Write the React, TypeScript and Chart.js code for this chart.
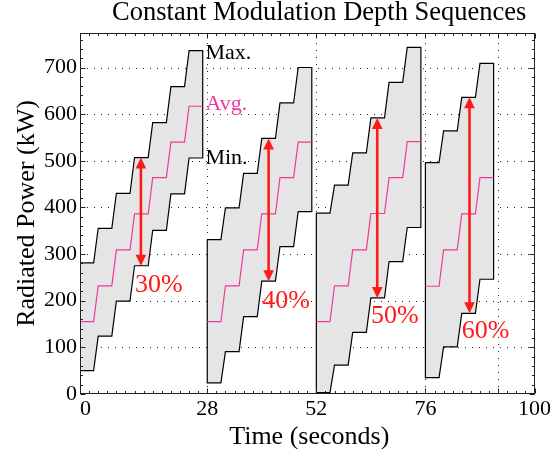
import React, { useEffect, useRef } from 'react';
import { Chart, registerables } from 'chart.js';

Chart.register(...registerables);

// ---- data ----
const GROUP_START = [0, 28, 52, 76]; // seconds
const STEP_SECONDS = 4; // each power level lasts 4 s
const HOLD_SECONDS = 3; // flat part of each level, then a 1 s ramp

const MAX_KW = [
  [281, 355, 430, 507, 582, 659, 736],
  [331, 399, 473, 548, 624, 700],
  [388, 448, 517, 592, 668, 743],
  [496, 564, 636, 709],
];
const AVG_KW = [
  [155, 232, 309, 386, 464, 540, 617],
  [155, 232, 309, 386, 464, 540],
  [155, 232, 309, 387, 464, 541],
  [231, 309, 386, 464],
];
const MIN_KW = [
  [50, 124, 199, 275, 351, 429, 506],
  [24, 91, 166, 242, 316, 391],
  [3, 62, 132, 206, 284, 357],
  [35, 101, 173, 246],
];

const DEPTH_LABELS = ['30%', '40%', '50%', '60%'];
const ARROW_TIME = [13.4, 41.5, 65.4, 85.7];
const ARROW_LEVEL = [3, 3, 3, 2];
const DEPTH_LABEL_TIME = [12.1, 40.1, 64.0, 84.0];
const DEPTH_LABEL_KW = [219, 184, 153, 119];

const LINE_LABELS = ['Max.', 'Avg.', 'Min.'];
const LINE_LABEL_KW = [719, 609, 493];
const LINE_LABEL_TIME = 27.6;

const X_TICKS = [0, 28, 52, 76, 92, 100];
const X_TICK_LABELS = ['\u00a0\u00a00', '28', '52', '76', '', '100'];
const Y_TICKS = [0, 100, 200, 300, 400, 500, 600, 700];
const X_MINOR_STEP = 2;
const Y_MINOR_STEP = 20;

const TITLE = 'Constant Modulation Depth Sequences';
const X_TITLE = 'Time (seconds)';
const Y_TITLE = 'Radiated Power (kW)';

// ---- style ----
const FONT = "'Liberation Serif', 'Times New Roman', serif";
const RED = '#ff1a1a';
const PINK = '#f0389c';
const FILL = '#e5e5e5';

const decor = {
  id: 'decor',
  beforeDatasetsDraw(chart: any) {
    const { ctx, chartArea: a, scales } = chart;
    const xs = scales.x;
    const ys = scales.y;
    ctx.save();
    ctx.strokeStyle = '#222';
    ctx.lineWidth = 1;
    ctx.setLineDash([1, 6]);
    X_TICKS.forEach((v) => {
      if (v <= xs.min || v >= xs.max) return;
      const px = Math.round(xs.getPixelForValue(v)) + 0.5;
      ctx.beginPath();
      ctx.moveTo(px, a.bottom);
      ctx.lineTo(px, a.top);
      ctx.stroke();
    });
    Y_TICKS.forEach((v) => {
      if (v <= ys.min || v >= ys.max) return;
      const py = Math.round(ys.getPixelForValue(v)) + 0.5;
      ctx.beginPath();
      ctx.moveTo(a.left, py);
      ctx.lineTo(a.right, py);
      ctx.stroke();
    });
    ctx.restore();
  },
  afterDatasetsDraw(chart: any) {
    const { ctx, chartArea: a, scales } = chart;
    const xs = scales.x;
    const ys = scales.y;
    ctx.save();

    // arrows
    const H = 11;
    const W = 5.3;
    ctx.fillStyle = RED;
    ctx.strokeStyle = RED;
    GROUP_START.forEach((_, g) => {
      const lvl = ARROW_LEVEL[g];
      const x = xs.getPixelForValue(ARROW_TIME[g]);
      const yt = ys.getPixelForValue(MAX_KW[g][lvl]);
      const yb = ys.getPixelForValue(MIN_KW[g][lvl]);
      ctx.lineWidth = 2.6;
      ctx.beginPath();
      ctx.moveTo(x, yt + H - 1);
      ctx.lineTo(x, yb - H + 1);
      ctx.stroke();
      ctx.beginPath();
      ctx.moveTo(x, yt);
      ctx.lineTo(x - W, yt + H);
      ctx.lineTo(x + W, yt + H);
      ctx.closePath();
      ctx.fill();
      ctx.beginPath();
      ctx.moveTo(x, yb);
      ctx.lineTo(x - W, yb - H);
      ctx.lineTo(x + W, yb - H);
      ctx.closePath();
      ctx.fill();
    });

    // depth labels
    ctx.font = `26px ${FONT}`;
    ctx.textAlign = 'left';
    ctx.textBaseline = 'alphabetic';
    DEPTH_LABELS.forEach((t, g) => {
      ctx.fillText(t, xs.getPixelForValue(DEPTH_LABEL_TIME[g]), ys.getPixelForValue(DEPTH_LABEL_KW[g]));
    });

    // Max / Avg / Min labels
    ctx.font = `22px ${FONT}`;
    LINE_LABELS.forEach((t, i) => {
      ctx.fillStyle = i === 1 ? PINK : '#000';
      ctx.fillText(t, xs.getPixelForValue(LINE_LABEL_TIME), ys.getPixelForValue(LINE_LABEL_KW[i]));
    });

    // box
    ctx.strokeStyle = '#222';
    ctx.lineWidth = 1;
    ctx.setLineDash([]);
    const L = Math.round(a.left) + 0.5;
    const R = Math.round(a.right) - 0.5;
    const T = Math.round(a.top) + 0.5;
    const B = Math.round(a.bottom) - 0.5;
    ctx.strokeRect(L, T, R - L, B - T);

    // ticks
    ctx.beginPath();
    const major = 5;
    const minor = 2.5;
    for (let v = xs.min; v <= xs.max + 1e-9; v += X_MINOR_STEP) {
      const len = X_TICKS.includes(v) ? major : minor;
      const px = Math.round(xs.getPixelForValue(v)) + 0.5;
      ctx.moveTo(px, B);
      ctx.lineTo(px, B - len);
      ctx.moveTo(px, T);
      ctx.lineTo(px, T + len);
    }
    for (let v = 0; v <= ys.max + 1e-9; v += Y_MINOR_STEP) {
      const len = Y_TICKS.includes(v) ? major : minor;
      const py = Math.round(ys.getPixelForValue(v)) + 0.5;
      ctx.moveTo(L, py);
      ctx.lineTo(L + len, py);
      ctx.moveTo(R, py);
      ctx.lineTo(R - len, py);
    }
    ctx.stroke();
    ctx.restore();
  },
  afterDraw(chart: any) {
    const { ctx, chartArea: a } = chart;
    ctx.save();
    ctx.fillStyle = '#000';
    ctx.textBaseline = 'alphabetic';
    ctx.textAlign = 'center';
    ctx.font = `26.5px ${FONT}`;
    ctx.fillText(TITLE, (a.left + a.right) / 2 + 12, 20);
    ctx.font = `26px ${FONT}`;
    ctx.fillText(X_TITLE, (a.left + a.right) / 2 + 2, 444);
    ctx.translate(33.5, (a.top + a.bottom) / 2);
    ctx.rotate(-Math.PI / 2);
    ctx.fillText(Y_TITLE, 0, 0);
    ctx.restore();
  },
};

export default function App() {
  const ref = useRef<HTMLCanvasElement>(null);
  useEffect(() => {
    document.body.style.margin = '0';
    const canvas = ref.current;
    if (!canvas) return;
    const datasets: any[] = [];
    GROUP_START.forEach((s, g) => {
      const n = MAX_KW[g].length;
      const outline: { x: number; y: number }[] = [];
      for (let k = 0; k < n; k++) {
        outline.push({ x: s + STEP_SECONDS * k, y: MAX_KW[g][k] });
        outline.push({ x: s + STEP_SECONDS * k + HOLD_SECONDS, y: MAX_KW[g][k] });
      }
      for (let k = n - 1; k >= 0; k--) {
        outline.push({ x: s + STEP_SECONDS * k + HOLD_SECONDS, y: MIN_KW[g][k] });
        outline.push({ x: s + STEP_SECONDS * k, y: MIN_KW[g][k] });
      }
      outline.push({ ...outline[0] });
      datasets.push({
        type: 'line',
        label: `range ${g}`,
        data: outline,
        borderColor: '#000',
        borderWidth: 1.2,
        backgroundColor: FILL,
        fill: 'shape',
        pointRadius: 0,
        tension: 0,
        order: 2,
      });
      const avg: { x: number; y: number }[] = [];
      for (let k = 0; k < n; k++) {
        avg.push({ x: s + STEP_SECONDS * k, y: AVG_KW[g][k] });
        avg.push({ x: s + STEP_SECONDS * k + HOLD_SECONDS, y: AVG_KW[g][k] });
      }
      datasets.push({
        type: 'line',
        label: `avg ${g}`,
        data: avg,
        borderColor: PINK,
        borderWidth: 1.2,
        fill: false,
        pointRadius: 0,
        tension: 0,
        order: 1,
      });
    });

    const chart = new Chart(canvas, {
      type: 'line',
      data: { datasets },
      options: {
        responsive: false,
        animation: false,
        devicePixelRatio: 1,
        layout: { padding: { top: 33, right: 17, left: 0, bottom: 0 } },
        plugins: { legend: { display: false }, tooltip: { enabled: false }, title: { display: false } },
        scales: {
          x: {
            type: 'linear',
            min: 0,
            max: 100,
            afterBuildTicks: (sc: any) => {
              sc.ticks = X_TICKS.map((v) => ({ value: v }));
            },
            afterFit: (sc: any) => {
              sc.height = 55;
            },
            ticks: {
              autoSkip: false,
              maxRotation: 0,
              padding: 2,
              color: '#000',
              font: { family: FONT, size: 22 },
              callback: (_v: any, i: number) => X_TICK_LABELS[i],
            },
            grid: { display: false, drawTicks: false },
            border: { display: false },
          },
          y: {
            type: 'linear',
            min: 0,
            max: 774,
            afterBuildTicks: (sc: any) => {
              sc.ticks = Y_TICKS.map((v) => ({ value: v }));
            },
            afterFit: (sc: any) => {
              sc.width = 80;
            },
            ticks: {
              autoSkip: false,
              padding: 3,
              color: '#000',
              font: { family: FONT, size: 22 },
              callback: (v: any) => String(v),
            },
            grid: { display: false, drawTicks: false },
            border: { display: false },
          },
        },
      },
      plugins: [decor],
    });
    return () => chart.destroy();
  }, []);
  return <canvas ref={ref} width={553} height={449} style={{ display: 'block' }} />;
}
